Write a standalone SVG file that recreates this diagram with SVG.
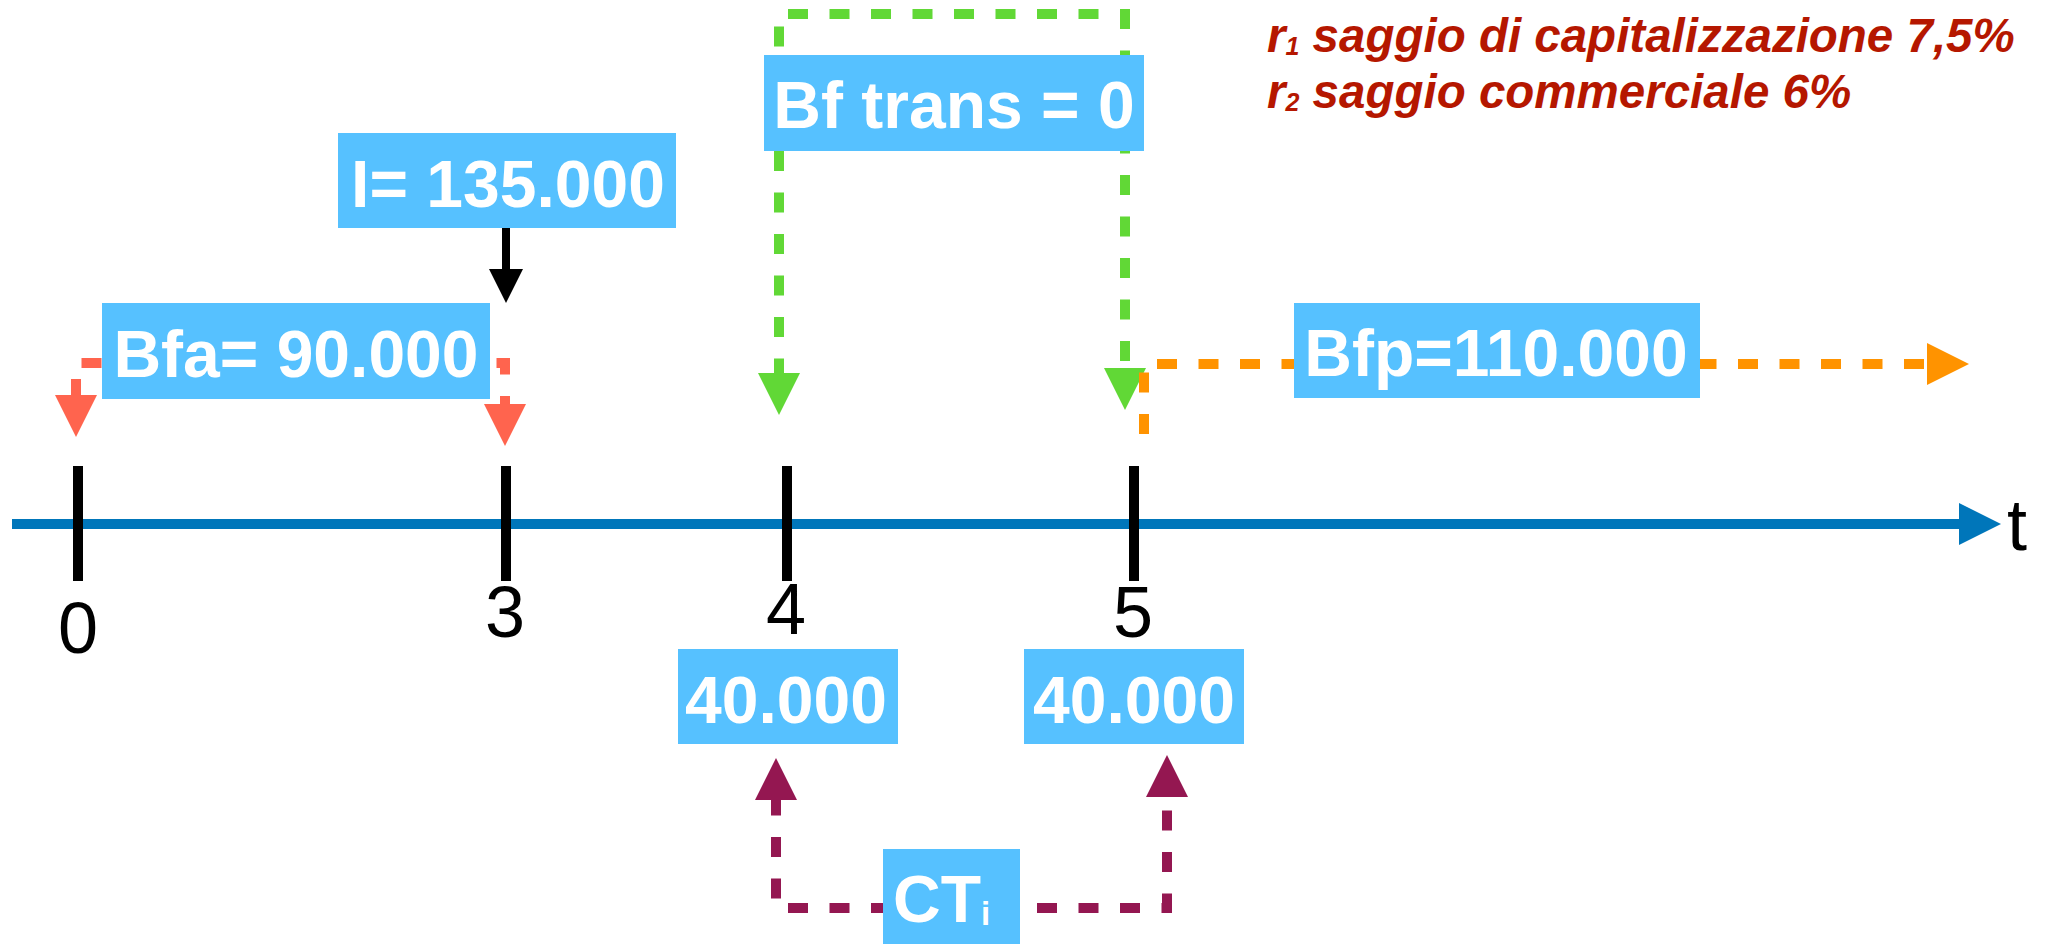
<svg xmlns="http://www.w3.org/2000/svg" width="2055" height="944" viewBox="0 0 2055 944">
  <style>
    .box { fill: #56C1FF; }
    .lbl { font-family: "Liberation Sans", Arial, sans-serif; font-weight: bold; font-size: 66px; fill: #FFFFFF; text-anchor: middle; }
    .tick { stroke: #000000; stroke-width: 10; }
    .num { font-family: "Liberation Sans", Arial, sans-serif; font-size: 72px; fill: #000000; text-anchor: middle; }
    .flow { fill: none; stroke-width: 10; stroke-linecap: butt; stroke-linejoin: miter; stroke-dasharray: 20 21.5; }
    .note { font-family: "Liberation Sans", Arial, sans-serif; font-weight: bold; font-style: italic; font-size: 47.5px; fill: #B51700; }
  </style>
  <defs>
    <marker id="ah-red" markerUnits="userSpaceOnUse" markerWidth="42" markerHeight="42" refX="0" refY="21" orient="auto-start-reverse" overflow="visible">
      <path d="M0,0 L42,21 L0,42 Z" fill="#FF644E"/>
    </marker>
    <marker id="ah-green" markerUnits="userSpaceOnUse" markerWidth="42" markerHeight="42" refX="0" refY="21" orient="auto-start-reverse" overflow="visible">
      <path d="M0,0 L42,21 L0,42 Z" fill="#61D836"/>
    </marker>
    <marker id="ah-orange" markerUnits="userSpaceOnUse" markerWidth="42" markerHeight="42" refX="0" refY="21" orient="auto" overflow="visible">
      <path d="M0,0 L42,21 L0,42 Z" fill="#FF9300"/>
    </marker>
    <marker id="ah-plum" markerUnits="userSpaceOnUse" markerWidth="42" markerHeight="42" refX="0" refY="21" orient="auto-start-reverse" overflow="visible">
      <path d="M0,0 L42,21 L0,42 Z" fill="#941751"/>
    </marker>
    <marker id="ah-blue" markerUnits="userSpaceOnUse" markerWidth="42" markerHeight="42" refX="0" refY="21" orient="auto" overflow="visible">
      <path d="M0,0 L42,21 L0,42 Z" fill="#0076BA"/>
    </marker>
    <marker id="ah-black" markerUnits="userSpaceOnUse" markerWidth="34" markerHeight="34" refX="0" refY="17" orient="auto" overflow="visible">
      <path d="M0,0 L34,17 L0,34 Z" fill="#000000"/>
    </marker>
  </defs>

  <!-- time axis -->
  <g id="axis">
    <path d="M12,524 H1959" stroke="#0076BA" stroke-width="10" fill="none" marker-end="url(#ah-blue)"/>
    <line class="tick" x1="78" y1="466" x2="78" y2="581"/>
    <line class="tick" x1="506" y1="466" x2="506" y2="581"/>
    <line class="tick" x1="787" y1="466" x2="787" y2="581"/>
    <line class="tick" x1="1134" y1="466" x2="1134" y2="581"/>
    <text class="num" x="78" y="653">0</text>
    <text class="num" x="505" y="637">3</text>
    <text class="num" x="786" y="634">4</text>
    <text class="num" x="1133" y="637">5</text>
    <text class="num" x="2007" y="550" style="text-anchor:start">t</text>
  </g>

  <!-- connectors -->
  <g id="connectors">
    <path class="flow" d="M76,395 V363 H505 V404" stroke="#FF644E" stroke-dashoffset="4" marker-start="url(#ah-red)" marker-end="url(#ah-red)"/>
    <path class="flow" d="M779,373 V14 H1125 V368" stroke="#61D836" stroke-dashoffset="5.5" marker-start="url(#ah-green)" marker-end="url(#ah-green)"/>
    <path class="flow" d="M1144,434 V364 H1927" stroke="#FF9300" marker-end="url(#ah-orange)"/>
    <path class="flow" d="M776,800 V908 H1167 V797" stroke="#941751" stroke-dashoffset="4.5" marker-start="url(#ah-plum)" marker-end="url(#ah-plum)"/>
    <path d="M506,228 V269" stroke="#000000" stroke-width="8" fill="none" marker-end="url(#ah-black)"/>
  </g>

  <!-- value boxes -->
  <g id="node-investimento">
    <rect class="box" x="338" y="133" width="338" height="95"/>
    <text class="lbl" x="508" y="207">I= 135.000</text>
  </g>
  <g id="node-bfa">
    <rect class="box" x="102" y="303" width="388" height="96"/>
    <text class="lbl" x="296" y="377">Bfa= 90.000</text>
  </g>
  <g id="node-bftrans">
    <rect class="box" x="764" y="55" width="380" height="96"/>
    <text class="lbl" x="954" y="128">Bf trans = 0</text>
  </g>
  <g id="node-bfp">
    <rect class="box" x="1294" y="303" width="406" height="95"/>
    <text class="lbl" x="1496" y="376">Bfp=110.000</text>
  </g>
  <g id="node-ct4">
    <rect class="box" x="678" y="649" width="220" height="95"/>
    <text class="lbl" x="786" y="723">40.000</text>
  </g>
  <g id="node-ct5">
    <rect class="box" x="1024" y="649" width="220" height="95"/>
    <text class="lbl" x="1134" y="723">40.000</text>
  </g>
  <g id="node-cti">
    <rect class="box" x="883" y="849" width="137" height="95"/>
    <text class="lbl" x="893" y="922" style="text-anchor:start">CT<tspan font-size="33" dy="3">i</tspan></text>
  </g>

  <!-- rates -->
  <g id="rates">
    <text class="note" x="1267" y="52">r<tspan font-size="25" dy="3">1</tspan><tspan dy="-3"> saggio di capitalizzazione 7,5%</tspan></text>
    <text class="note" x="1267" y="108">r<tspan font-size="25" dy="3">2</tspan><tspan dy="-3"> saggio commerciale 6%</tspan></text>
  </g>
</svg>
